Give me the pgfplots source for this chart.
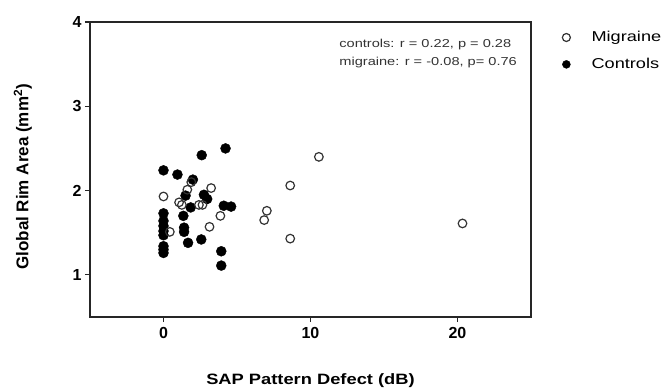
\documentclass[border=0pt]{standalone}
\usepackage{pgfplots}
\pgfplotsset{compat=1.18}
\usepackage{fontspec}
\setmainfont{Liberation Sans}
\newfontfamily\widefont{Liberation Sans}[FakeStretch=1.27]
\newfontfamily\xlabfont{Liberation Sans}[FakeStretch=1.22]
\begin{document}
\begin{tikzpicture}
\begin{axis}[
  scale only axis, width=441pt, height=295pt,
  xmin=-5, xmax=25, ymin=0.5, ymax=4,
  xtick={0,10,20}, ytick={1,2,3,4},
  minor tick num=0,
  tick align=outside, xtick pos=bottom, ytick pos=left,
  major tick length=5pt,
  axis line style={black!85, line width=1.2pt},
  every tick/.style={black!85, line width=1.2pt},
  tick label style={font=\fontsize{16}{16}\selectfont\bfseries},
  xticklabel style={yshift=-2pt},
  /pgf/number format/assume math mode=true,
  xlabel={SAP Pattern Defect (dB)},
  ylabel={Global Rim Area (mm\textsuperscript{2})},
  xlabel style={font=\xlabfont\fontsize{15}{15}\selectfont\bfseries, at={(axis description cs:0.5,-0.217)}, anchor=center},
  ylabel style={font=\fontsize{17}{17}\selectfont\bfseries, at={(axis description cs:-0.152,0.475)}, anchor=center, rotate=0},
  legend style={draw=none, fill=none, at={(axis description cs:1.068,0.975)}, anchor=north west,
    font=\widefont\fontsize{14.3}{14.3}\selectfont, row sep=11pt, inner sep=0pt},
  legend image code/.code={\draw[#1, mark size=4pt] plot coordinates {(0pt,0pt)}; \path (-5pt,0pt) (23pt,0pt);},
  legend cell align=left,
  reverse legend,
  clip=false,
]
\addplot[only marks, mark=*, mark size=5pt, color=black] coordinates {
(0,2.24) (0.95,2.19) (2.6,2.42) (4.22,2.50) (2.0,2.13) (1.5,1.94) (2.75,1.95)
(2.97,1.90) (1.85,1.80) (4.1,1.82) (4.6,1.81) (1.35,1.70) (0,1.73) (0,1.64)
(0,1.58) (0,1.52) (0,1.47) (1.4,1.56) (1.4,1.51) (1.67,1.38) (2.57,1.42)
(0,1.34) (0,1.30) (0,1.26) (3.93,1.28) (3.93,1.11)
};
\addlegendentry{Controls}
\addplot[only marks, mark=o, mark size=4.3pt, color=black!80, mark options={fill=white, line width=1.2pt}] coordinates {
(0,1.93) (0.43,1.51) (1.06,1.86) (1.25,1.83) (1.62,2.01) (1.89,2.10) (3.24,2.03)
(2.41,1.83) (2.65,1.83) (3.87,1.70) (3.13,1.57) (7.03,1.76) (6.85,1.65)
(8.62,2.06) (8.62,1.43) (10.57,2.40) (20.34,1.61)
};
\addlegendentry{Migraine}
\node[anchor=west, inner sep=0pt, font=\widefont\fontsize{11.5}{11.5}\selectfont, text=black!80] at (axis description cs:0.565,0.925) {controls: r = 0.22, p = 0.28};
\node[anchor=west, inner sep=0pt, font=\widefont\fontsize{11.5}{11.5}\selectfont, text=black!80] at (axis description cs:0.565,0.864) {migraine: r = -0.08, p= 0.76};
\end{axis}
\pgfresetboundingbox
\path[use as bounding box] (-90pt,-72pt) rectangle (574pt,317pt);
\end{tikzpicture}
\end{document}
